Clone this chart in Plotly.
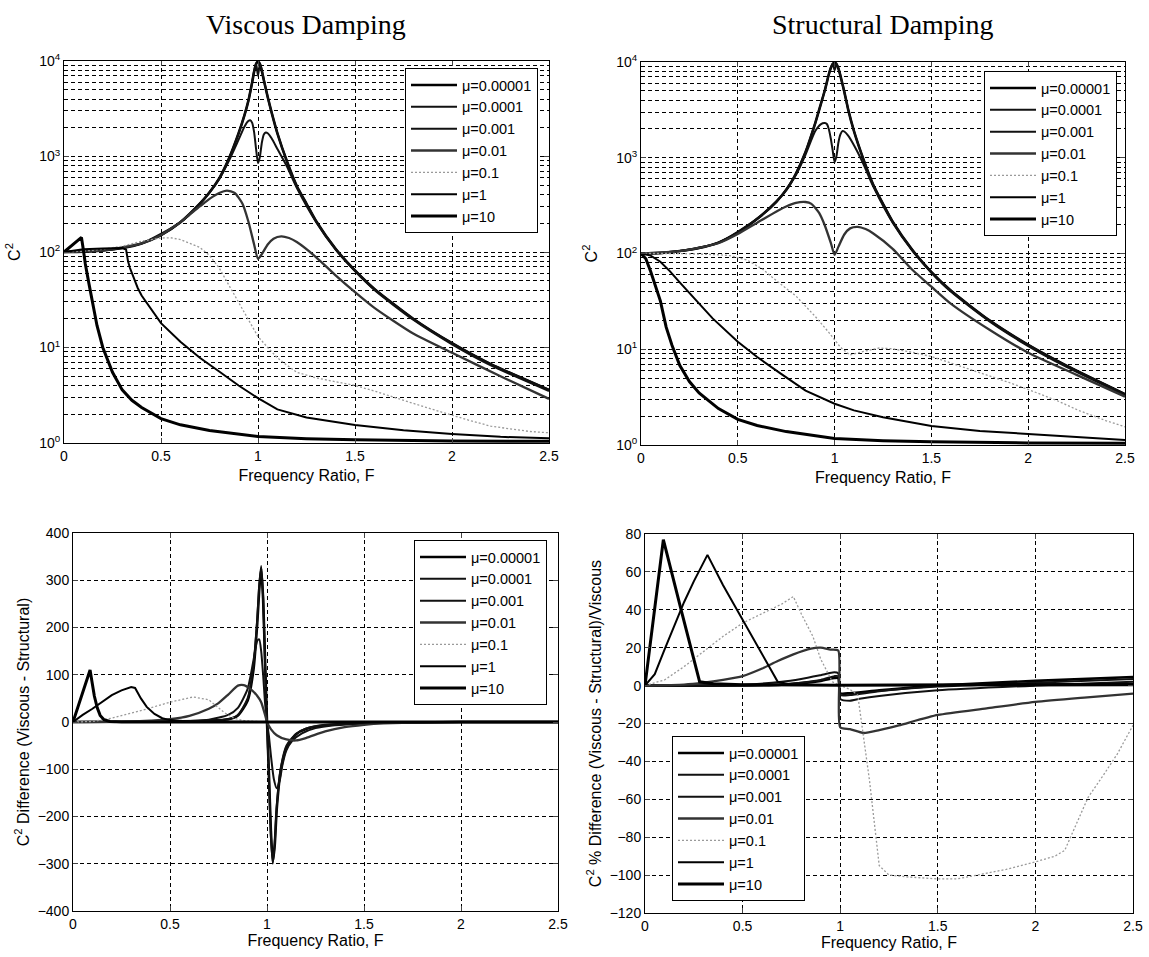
import plotly.graph_objects as go

# ---------------- DATA ----------------
MU_LABELS = ["μ=0.00001", "μ=0.0001", "μ=0.001", "μ=0.01", "μ=0.1", "μ=1", "μ=10"]

# Panel 1: Viscous damping, C^2 (log scale)
VISC_F_A = [0, 0.1, 0.2, 0.3, 0.4, 0.5, 0.6, 0.7, 0.75, 0.8, 0.85, 0.9, 0.93, 0.95, 0.97, 0.98, 0.99, 1.0,
            1.01, 1.02, 1.03, 1.05, 1.07, 1.1, 1.15, 1.2, 1.25, 1.3, 1.4, 1.5, 1.6, 1.8, 2.0, 2.2, 2.5]
VISC_MU1E5 = [100, 101, 104, 110, 123, 150, 205, 320, 420, 590, 950, 1750, 2700, 3800, 6000, 7700, 9300, 9900,
              9300, 7800, 6300, 4200, 2900, 1750, 880, 490, 320, 210, 108, 64, 41, 20, 11.1, 6.7, 3.6]
VISC_MU1E4 = [100, 101, 104, 110, 123, 150, 205, 320, 420, 590, 950, 1750, 2700, 3800, 6000, 7900, 9500, 7000,
              9400, 8000, 6400, 4200, 2900, 1750, 880, 490, 320, 210, 108, 64, 41, 20, 11.1, 6.7, 3.6]
VISC_F_B = [0, 0.2, 0.4, 0.6, 0.7, 0.8, 0.85, 0.9, 0.93, 0.95, 0.96, 0.97, 0.98, 0.99, 1.0, 1.01, 1.02, 1.03,
            1.04, 1.05, 1.07, 1.1, 1.15, 1.2, 1.3, 1.4, 1.5, 1.6, 1.8, 2.0, 2.2, 2.5]
VISC_MU1E3 = [100, 104, 123, 205, 318, 580, 900, 1500, 2050, 2350, 2400, 2250, 1800, 1200, 850, 1000, 1400, 1700,
              1780, 1750, 1550, 1200, 780, 470, 205, 106, 63, 40, 19.5, 10.8, 6.5, 3.5]
VISC_F_C = [0, 0.2, 0.4, 0.5, 0.55, 0.6, 0.65, 0.7, 0.75, 0.8, 0.84, 0.88, 0.92, 0.95, 0.98, 1.0, 1.02, 1.05,
            1.08, 1.12, 1.16, 1.2, 1.3, 1.4, 1.5, 1.6, 1.8, 2.0, 2.25, 2.5]
VISC_MU1E2 = [100, 104, 123, 150, 175, 205, 250, 300, 360, 415, 440, 415, 320, 210, 120, 85, 95, 120,
              138, 146, 140, 127, 88, 57, 38, 26, 14, 8.8, 5.0, 2.9]
VISC_F_D = [0, 0.1, 0.2, 0.3, 0.4, 0.5, 0.55, 0.6, 0.7, 0.75, 0.8, 0.85, 0.9, 0.95, 1.0, 1.05, 1.1, 1.15, 1.2,
            1.3, 1.4, 1.5, 1.6, 1.7, 1.8, 1.9, 2.0, 2.1, 2.2, 2.3, 2.4, 2.5]
VISC_MU1E1 = [100, 102, 107, 115, 130, 140, 141, 135, 112, 92, 68, 45, 29, 19, 13, 10, 7.8, 6.5, 5.5,
              4.8, 4.4, 4.0, 3.5, 3.0, 2.6, 2.25, 1.95, 1.7, 1.5, 1.4, 1.32, 1.28]
VISC_F_E = [0, 0.05, 0.1, 0.2, 0.3, 0.32, 0.33, 0.34, 0.36, 0.38, 0.4, 0.45, 0.5, 0.6, 0.7, 0.8, 0.9, 1.0,
            1.1, 1.25, 1.5, 1.75, 2.0, 2.25, 2.5]
VISC_MU1 = [100, 104, 107, 109, 110, 106, 80, 68, 53, 42, 35, 25, 18, 11.5, 7.8, 5.6, 4.0, 2.95,
            2.25, 1.85, 1.54, 1.36, 1.24, 1.16, 1.12]
VISC_F_G = [0, 0.09, 0.1, 0.11, 0.13, 0.15, 0.17, 0.2, 0.25, 0.3, 0.35, 0.4, 0.5, 0.6, 0.75, 1.0, 1.25, 1.5,
            2.0, 2.5]
VISC_MU10 = [100, 142, 105, 75, 45, 27, 17, 10, 5.5, 3.6, 2.8, 2.35, 1.8, 1.55, 1.35, 1.17, 1.11, 1.08,
             1.05, 1.04]

# Panel 2: Structural damping, C^2 (log scale)
STRU_F_A = VISC_F_A
STRU_MU1E5 = [100, 101, 106, 114, 130, 165, 230, 350, 460, 680, 1150, 2300, 3700, 5100, 7400, 8600, 9500, 9900,
              9500, 8500, 7200, 4900, 3200, 1900, 950, 520, 330, 215, 110, 64, 41, 20, 11.1, 6.7, 3.4]
STRU_MU1E4 = [100, 101, 106, 114, 130, 165, 230, 350, 460, 680, 1150, 2300, 3700, 5100, 7400, 8700, 9600, 8200,
              9600, 8600, 7200, 4900, 3200, 1900, 950, 520, 330, 215, 110, 64, 41, 20, 11.1, 6.7, 3.4]
STRU_F_B = VISC_F_B
STRU_MU1E3 = [100, 106, 130, 230, 345, 660, 1080, 1900, 2250, 2300, 2250, 2000, 1600, 1200, 900, 1050, 1450, 1750,
              1900, 1880, 1700, 1350, 850, 500, 210, 108, 63, 40, 19.5, 10.8, 6.5, 3.3]
STRU_F_C = [0, 0.2, 0.4, 0.5, 0.6, 0.7, 0.75, 0.8, 0.85, 0.88, 0.92, 0.95, 0.98, 1.0, 1.02, 1.05, 1.08, 1.12,
            1.16, 1.2, 1.3, 1.4, 1.5, 1.6, 1.8, 2.0, 2.25, 2.5]
STRU_MU1E2 = [100, 106, 128, 160, 210, 275, 310, 338, 345, 330, 265, 195, 130, 97, 118, 158, 183, 190,
              180, 162, 112, 68, 45, 30, 16, 9.2, 5.4, 3.2]
STRU_F_D = [0, 0.2, 0.4, 0.46, 0.55, 0.63, 0.7, 0.8, 0.9, 0.97, 1.03, 1.08, 1.15, 1.23, 1.3, 1.4, 1.5, 1.6,
            1.76, 1.9, 2.0, 2.15, 2.26, 2.4, 2.5]
STRU_MU1E1 = [100, 100, 97, 95, 85, 68, 52, 36, 22, 15, 10.5, 8.7, 9.5, 10.3, 10.1, 9.3, 8.4, 7.2,
              5.6, 4.5, 3.8, 2.9, 2.3, 1.8, 1.55]
STRU_F_E = [0, 0.05, 0.1, 0.15, 0.2, 0.25, 0.3, 0.37, 0.5, 0.6, 0.72, 0.85, 1.0, 1.1, 1.25, 1.5, 1.75, 2.0,
            2.25, 2.5]
STRU_MU1 = [100, 95, 82, 65, 50, 39, 30, 21, 12, 8.3, 5.6, 3.7, 2.7, 2.3, 1.95, 1.58, 1.4, 1.3, 1.2, 1.13]
STRU_F_G = [0, 0.025, 0.05, 0.075, 0.1, 0.13, 0.16, 0.2, 0.25, 0.3, 0.4, 0.5, 0.6, 0.75, 1.0, 1.25, 1.5, 2.0, 2.5]
STRU_MU10 = [100, 88, 65, 45, 32, 17, 11, 6.8, 4.6, 3.5, 2.4, 1.85, 1.6, 1.38, 1.17, 1.11, 1.08, 1.05, 1.04]

# Panel 3: C^2 difference (Viscous - Structural)
DIFF_F_A = [0, 0.5, 0.7, 0.8, 0.85, 0.9, 0.93, 0.95, 0.96, 0.97, 0.98, 0.99, 1.0, 1.01, 1.02, 1.03, 1.04, 1.05,
            1.07, 1.1, 1.15, 1.2, 1.3, 1.5, 2.0, 2.5]
DIFF_MU1E5 = [0, 1, 3, 6, 14, 45, 110, 210, 280, 325, 260, 130, 0, -110, -230, -295, -260, -185,
              -105, -55, -26, -15, -7, -2, 0, 0]
DIFF_MU1E4 = [0, 1, 3, 6, 15, 50, 120, 220, 290, 330, 265, 120, 0, -120, -240, -300, -255, -180,
              -100, -50, -25, -14, -6, -2, 0, 0]
DIFF_F_B = [0, 0.5, 0.7, 0.8, 0.85, 0.9, 0.93, 0.95, 0.96, 0.97, 0.98, 0.99, 1.0, 1.01, 1.02, 1.035, 1.05, 1.065,
            1.08, 1.1, 1.13, 1.18, 1.25, 1.35, 1.5, 1.7, 2.0, 2.5]
DIFF_MU1E3 = [0, 1, 5, 15, 30, 70, 130, 172, 175, 150, 100, 40, 0, -30, -70, -120, -140, -125,
              -90, -60, -40, -24, -13, -7, -3, -1, 0, 0]
DIFF_F_C = [0, 0.3, 0.4, 0.5, 0.6, 0.7, 0.75, 0.8, 0.85, 0.88, 0.92, 0.95, 0.97, 0.99, 1.0, 1.02, 1.05, 1.1,
            1.15, 1.2, 1.3, 1.4, 1.5, 1.6, 1.8, 2.0, 2.5]
DIFF_MU1E2 = [0, 1, 3, 6, 13, 28, 40, 58, 77, 78, 68, 55, 42, 15, 0, -15, -28, -37,
              -39, -34, -20, -11, -6, -3, -1, 0, 0]
DIFF_F_D = [0, 0.1, 0.2, 0.3, 0.36, 0.4, 0.5, 0.62, 0.7, 0.78, 0.83, 0.88, 0.95, 1.0, 1.1, 1.3, 1.5, 2.0, 2.5]
DIFF_MU1E1 = [0, 1, 8, 18, 25, 30, 42, 53, 47, 20, 8, 3, 1, 0, -1, -1.5, -1, 0, 0]
DIFF_F_E = [0, 0.05, 0.1, 0.15, 0.2, 0.25, 0.3, 0.32, 0.35, 0.38, 0.42, 0.46, 0.5, 0.6, 0.8, 1.0, 2.5]
DIFF_MU1 = [0, 15, 28, 43, 57, 67, 74, 72, 50, 32, 17, 8, 4, 1, 0.5, 0, 0]
DIFF_F_G = [0, 0.088, 0.1, 0.11, 0.125, 0.14, 0.16, 0.19, 0.25, 2.5]
DIFF_MU10 = [0, 110, 80, 55, 30, 14, 5, 1, 0, 0]

# Panel 4: C^2 % difference (Viscous - Structural)/Viscous
PCT_F_A = [0, 0.7, 0.9, 0.97, 0.99, 1.0, 1.05, 1.2, 1.5, 2.0, 2.5]
PCT_MU1E5 = [0, 0.5, 2.5, 4, 4, -4, -4, -2.5, 0, 2.5, 4.5]
PCT_MU1E4 = [0, 0.5, 3, 5, 5, -5, -5, -3, -0.5, 1.5, 3.5]
PCT_F_B = [0, 0.5, 0.7, 0.8, 0.9, 0.97, 0.99, 1.0, 1.05, 1.1, 1.2, 1.5, 2.0, 2.5]
PCT_MU1E3 = [0, 0.5, 2, 3.5, 5.5, 7, 6.5, -7, -8, -7, -5.5, -2.5, 0, 2]
PCT_F_C = [0, 0.2, 0.3, 0.4, 0.5, 0.6, 0.68, 0.76, 0.85, 0.9, 0.95, 0.99, 1.0, 1.05, 1.12, 1.2, 1.3, 1.5,
           1.75, 2.0, 2.25, 2.5]
PCT_MU1E2 = [0, 0.5, 1.5, 3, 5, 9, 13, 16.5, 19.5, 20, 19, 18.5, -22, -23, -25, -23.5, -21, -15.5,
             -12, -8.6, -6.3, -4.2]
PCT_F_D = [0, 0.1, 0.2, 0.3, 0.4, 0.5, 0.6, 0.7, 0.76, 0.8, 0.86, 0.9, 0.96, 1.0, 1.05, 1.09, 1.15, 1.2, 1.25,
           1.35, 1.5, 1.6, 1.7, 1.85, 2.0, 2.1, 2.15, 2.2, 2.27, 2.35, 2.42, 2.5]
PCT_MU1E1 = [0, 3, 10, 18, 26, 33, 38, 43, 47, 38, 26, 14, 2, 0, -2, -5, -50, -95, -100,
             -101, -102, -102, -100, -97, -93, -90, -87, -75, -59, -47, -36, -21]
PCT_F_E = [0, 0.05, 0.1, 0.16, 0.2, 0.25, 0.32, 0.4, 0.5, 0.6, 0.68, 0.75, 1.0, 1.5, 2.0, 2.5]
PCT_MU1 = [0, 6, 19, 34, 44, 55, 69, 53, 35, 17, 2, 0.5, 0.3, 0.5, 0.8, 1]
PCT_F_G = [0, 0.094, 0.19, 0.28, 0.35, 0.5, 1.0, 1.5, 2.0, 2.5]
PCT_MU10 = [0, 77, 38, 2, 1, 0.5, 0.2, 0.2, 0.3, 0.5]

X_TICKS = [0, 0.5, 1, 1.5, 2, 2.5]
X_TICKTEXT = ["0", "0.5", "1", "1.5", "2", "2.5"]
LOG_TICKS = [1, 10, 100, 1000, 10000]
LOG_TICKTEXT = ["10<sup>0</sup>", "10<sup>1</sup>", "10<sup>2</sup>", "10<sup>3</sup>", "10<sup>4</sup>"]
DIFF_TICKS = [-400, -300, -200, -100, 0, 100, 200, 300, 400]
PCT_TICKS = [-120, -100, -80, -60, -40, -20, 0, 20, 40, 60, 80]

PANELS = [
    [(VISC_F_A, VISC_MU1E5), (VISC_F_A, VISC_MU1E4), (VISC_F_B, VISC_MU1E3), (VISC_F_C, VISC_MU1E2),
     (VISC_F_D, VISC_MU1E1), (VISC_F_E, VISC_MU1), (VISC_F_G, VISC_MU10)],
    [(STRU_F_A, STRU_MU1E5), (STRU_F_A, STRU_MU1E4), (STRU_F_B, STRU_MU1E3), (STRU_F_C, STRU_MU1E2),
     (STRU_F_D, STRU_MU1E1), (STRU_F_E, STRU_MU1), (STRU_F_G, STRU_MU10)],
    [(DIFF_F_A, DIFF_MU1E5), (DIFF_F_A, DIFF_MU1E4), (DIFF_F_B, DIFF_MU1E3), (DIFF_F_C, DIFF_MU1E2),
     (DIFF_F_D, DIFF_MU1E1), (DIFF_F_E, DIFF_MU1), (DIFF_F_G, DIFF_MU10)],
    [(PCT_F_A, PCT_MU1E5), (PCT_F_A, PCT_MU1E4), (PCT_F_B, PCT_MU1E3), (PCT_F_C, PCT_MU1E2),
     (PCT_F_D, PCT_MU1E1), (PCT_F_E, PCT_MU1), (PCT_F_G, PCT_MU10)],
]

# ---------------- STYLE ----------------
W, H = 1149, 957
LINE_STYLES = [
    dict(color="#000000", width=2.6),
    dict(color="#111111", width=2.0),
    dict(color="#111111", width=2.0),
    dict(color="#333333", width=2.3),
    dict(color="#9a9a9a", width=1.3, dash="2px,2px"),
    dict(color="#000000", width=2.0),
    dict(color="#000000", width=3.0),
]
SHAPES = ["spline", "spline", "spline", "spline", "linear", "linear", "linear"]
SANS = "Liberation Sans, Arial, sans-serif"
SERIF = "Liberation Serif, Times New Roman, serif"
GRID_DASH = "4px,3px"

# pixel boxes of the four axes: (left, right, top, bottom)
BOXES = [(64, 549, 61, 443), (641, 1125, 62, 445), (73, 558, 533, 911), (645, 1133, 534, 913)]
LEGEND_POS = [(405, 68), (984, 71), (414, 540), (672, 736)]
TITLE_POS = [(306, 25), (883, 25)]
XTITLE_STANDOFF = [7, 7, 1, 1]
YTITLE_STANDOFF = [14, 14, 4, 4]

fig = go.Figure()

for p, series in enumerate(PANELS):
    ax = "" if p == 0 else str(p + 1)
    leg = "legend" if p == 0 else "legend" + str(p + 1)
    for k, (fx, fy) in enumerate(series):
        fig.add_trace(go.Scatter(
            x=fx, y=fy, mode="lines", name=MU_LABELS[k],
            line=dict(shape=SHAPES[k], smoothing=0.6, **LINE_STYLES[k]),
            xaxis="x" + ax, yaxis="y" + ax, legend=leg, showlegend=True,
        ))

layout = dict(
    width=W, height=H, margin=dict(l=0, r=0, t=0, b=0),
    paper_bgcolor="white", plot_bgcolor="white",
    font=dict(family=SANS, size=14, color="black"),
)

for p, (l, r, t, b) in enumerate(BOXES):
    ax = "" if p == 0 else str(p + 1)
    xdom = [l / W, r / W]
    ydom = [1 - b / H, 1 - t / H]
    xa = dict(
        domain=xdom, anchor="y" + ax, range=[0, 2.5], tickvals=X_TICKS, ticktext=X_TICKTEXT,
        showline=True, linecolor="black", linewidth=1, mirror="ticks", ticks="inside", ticklen=5,
        showgrid=True, gridcolor="black", gridwidth=1, griddash=GRID_DASH, zeroline=False,
        tickfont=dict(size=14, family=SANS), automargin=False,
        title=dict(text="Frequency Ratio, F", font=dict(size=16, family=SANS), standoff=XTITLE_STANDOFF[p]),
    )
    ya = dict(
        domain=ydom, anchor="x" + ax,
        showline=True, linecolor="black", linewidth=1, mirror="ticks", ticks="inside", ticklen=5,
        showgrid=True, gridcolor="black", gridwidth=1, griddash=GRID_DASH, zeroline=False,
        tickfont=dict(size=14, family=SANS), automargin=False,
    )
    if p < 2:
        ya.update(type="log", range=[0, 4], tickvals=LOG_TICKS, ticktext=LOG_TICKTEXT,
                  minor=dict(dtick="D1", showgrid=True, gridcolor="black", gridwidth=1,
                             griddash=GRID_DASH, ticks=""),
                  title=dict(text="C<sup>2</sup>", font=dict(size=16, family=SANS),
                             standoff=YTITLE_STANDOFF[p]))
    elif p == 2:
        ya.update(range=[-400, 400], tickvals=DIFF_TICKS,
                  title=dict(text="C<sup>2</sup> Difference (Viscous - Structural)",
                             font=dict(size=16, family=SANS), standoff=YTITLE_STANDOFF[p]))
    else:
        ya.update(range=[-120, 80], tickvals=PCT_TICKS,
                  title=dict(text="C<sup>2</sup> % Difference (Viscous - Structural)/Viscous",
                             font=dict(size=16, family=SANS), standoff=YTITLE_STANDOFF[p]))
    layout["xaxis" + ax] = xa
    layout["yaxis" + ax] = ya

for p, (lx, ly) in enumerate(LEGEND_POS):
    key = "legend" if p == 0 else "legend" + str(p + 1)
    layout[key] = dict(
        x=lx / W, y=1 - ly / H, xanchor="left", yanchor="top",
        bgcolor="white", bordercolor="black", borderwidth=1,
        font=dict(family=SANS, size=14.5, color="black"), itemwidth=46, tracegroupgap=0,
    )

TITLES = ["Viscous Damping", "Structural Damping"]
layout["annotations"] = [
    dict(text=txt, x=tx / W, y=1 - ty / H, xref="paper", yref="paper", xanchor="center", yanchor="middle",
         showarrow=False, font=dict(family=SERIF, size=28, color="black"))
    for txt, (tx, ty) in zip(TITLES, TITLE_POS)
]

fig.update_layout(**layout)
fig.write_html("out.html")
